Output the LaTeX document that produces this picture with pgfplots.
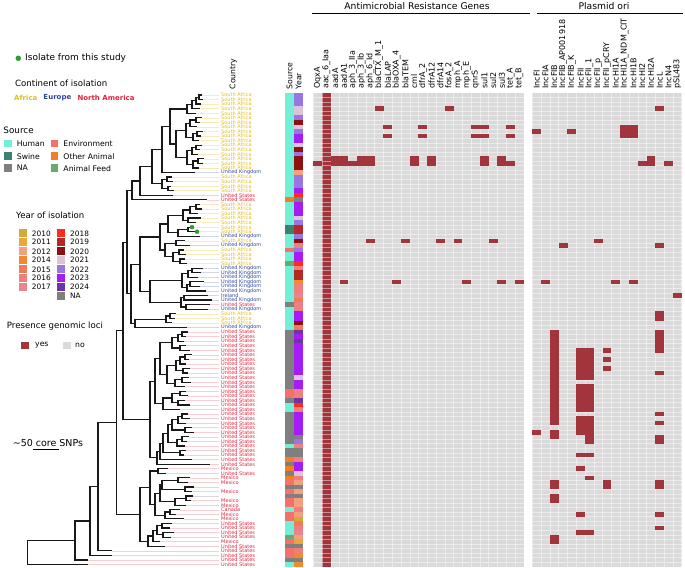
\documentclass[border=0pt]{standalone}
\usepackage{fontspec}
\setmainfont{DejaVu Sans}
\usepackage{pgfplots}
\usepackage{pgfplotstable}
\pgfplotsset{compat=1.18}

\definecolor{afr}{HTML}{E4BC1F}
\definecolor{eur}{HTML}{30489A}
\definecolor{nam}{HTML}{E3233B}
\colorlet{afrL}{afr!30}
\colorlet{eurL}{eur!22}
\colorlet{namL}{nam!22}
\colorlet{nnL}{black!15}
\definecolor{human}{HTML}{72EFD6}
\definecolor{swine}{HTML}{3F7F6F}
\definecolor{naC}{HTML}{7F7F7F}
\definecolor{env}{HTML}{F4706B}
\definecolor{oth}{HTML}{F47F20}
\definecolor{feed}{HTML}{68A974}
\definecolor{c10}{HTML}{D2AA3A}
\definecolor{c11}{HTML}{ECA53A}
\definecolor{c12}{HTML}{F2A07E}
\definecolor{c14}{HTML}{F08A2C}
\definecolor{c15}{HTML}{EF7B59}
\definecolor{c16}{HTML}{EE7F7F}
\definecolor{c17}{HTML}{E88590}
\definecolor{c18}{HTML}{FF2B1F}
\definecolor{c19}{HTML}{B52828}
\definecolor{c20}{HTML}{8E1010}
\definecolor{c21}{HTML}{DCC3DC}
\definecolor{c22}{HTML}{9678E0}
\definecolor{c23}{HTML}{A51CF5}
\definecolor{c24}{HTML}{6B35A5}
\definecolor{cellgrey}{HTML}{DADADA}
\definecolor{hred}{HTML}{A2353C}
\definecolor{gdot}{HTML}{2E9B2E}

\newcommand\fs[1]{\fontsize{#1bp}{#1bp}\selectfont}
\newcommand\labSA{\textcolor{afr}{South Africa}}
\newcommand\labUK{\textcolor{eur}{United Kingdom}}
\newcommand\labIE{\textcolor{eur}{Ireland}}
\newcommand\labUS{\textcolor{nam}{United States}}
\newcommand\labMX{\textcolor{nam}{Mexico}}
\newcommand\labCA{\textcolor{nam}{Canada}}
\newcommand\labNN{}

\pgfdeclareplotmark{hcell}{\pgfpathrectangle{\pgfqpoint{-4.45bp}{-2.33bp}}{\pgfqpoint{8.9bp}{4.66bp}}\pgfusepathqfill}
\pgfdeclareplotmark{scell}{\pgfpathrectangle{\pgfqpoint{-4.62bp}{-2.33bp}}{\pgfqpoint{9.24bp}{4.66bp}}\pgfusepathqfill}
\pgfdeclareplotmark{lsq}{\pgfpathrectangle{\pgfqpoint{-3.85bp}{-3.75bp}}{\pgfqpoint{7.7bp}{7.5bp}}\pgfusepathqfill}
\pgfdeclareplotmark{ysq}{\pgfpathrectangle{\pgfqpoint{-3.85bp}{-4bp}}{\pgfqpoint{7.7bp}{8bp}}\pgfusepathqfill}

\pgfplotsset{
  srcclasses/.style={scatter/classes={H={fill=human},S={fill=swine},N={fill=naC},E={fill=env},O={fill=oth},F={fill=feed}}},
  yrclasses/.style={scatter/classes={y10={fill=c10},y11={fill=c11},y12={fill=c12},y14={fill=c14},y15={fill=c15},y16={fill=c16},y17={fill=c17},y18={fill=c18},y19={fill=c19},y20={fill=c20},y21={fill=c21},y22={fill=c22},y23={fill=c23},y24={fill=c24},yNA={fill=naC}}},
  colormap={contmap}{color=(afrL) color=(eurL) color=(namL) color=(nnL)},
}

\pgfplotstableread{
r tx cont lab src yr
0 202 1 SA H y22
1 203 1 SA H y22
2 201 1 SA H y22
3 200 1 SA H y21
4 196 1 SA H y21
5 202 1 SA H y22
6 200 1 SA H y20
7 197 1 SA H y21
8 203 1 SA H y22
9 201 1 SA H y23
10 199 1 SA H y23
11 202 1 SA H y21
12 200 1 SA H y20
13 198 1 SA H y22
14 204 1 SA H y20
15 203 1 SA H y20
16 199 1 SA H y20
17 195 2 UK H y12
18 172 1 SA H y22
19 173 1 SA H y22
20 171 1 SA H y22
21 174 1 SA H y23
22 173 3 US H y18
23 207 3 US O yNA
24 200 1 SA H y23
25 202 1 SA H y23
26 198 1 SA H y23
27 201 1 SA H y21
28 196 1 SA H y22
29 192 1 SA S y19
30 197 1 SA S y19
31 200 2 UK H y22
32 185 1 SA H y20
33 190 2 UK H y16
34 184 1 SA E y22
35 186 1 SA H y23
36 185 1 SA H y23
37 187 1 SA F y18
38 203 2 UK H y16
39 201 2 UK H y19
40 198 2 UK H y19
41 204 2 UK H y14
42 200 2 UK H y16
43 206 2 UK H y16
44 208 2 IE H y17
45 212 2 UK H y15
46 210 3 US N y16
47 208 2 UK H y16
48 176 1 SA H y23
49 175 1 SA H y23
50 172 1 SA H y20
51 187 2 UK H y15
52 188 3 US N y24
53 186 3 US N y23
54 184 3 US N y24
55 186 3 US N y23
56 190 3 US N y23
57 192 3 US N y23
58 189 3 US N y23
59 186 3 US N y23
60 190 3 US N y23
61 188 3 US N y23
62 189 3 US N y21
63 191 3 US N y23
64 185 3 US N y23
65 186 3 US E y16
66 188 3 US E y16
67 185 3 US N y24
68 190 3 US H y18
69 180 3 US H y16
70 188 3 US N y23
71 190 3 US N y23
72 186 3 US N y23
73 192 3 US N y23
74 194 3 US N y23
75 189 3 US N yNA
76 187 3 US N y22
77 185 3 US H y16
78 186 3 US N yNA
79 184 3 US N yNA
80 192 3 US O y16
81 210 3 US N y23
82 168 3 MX O y23
83 166 3 US N y21
84 190 3 MX O y16
85 188 3 MX E y12
86 194 4 NN N yNA
87 192 3 MX E y12
88 193 4 NN N yNA
89 191 3 MX E y12
90 186 3 MX E y12
91 180 3 CA H y16
92 176 3 MX E y12
93 184 3 MX E y10
94 172 3 US H y15
95 170 3 US H y16
96 174 3 US H y17
97 171 3 US F y12
98 160 3 MX E y11
99 165 3 US N yNA
100 112 3 US E y16
101 112 3 US E y14
102 88 3 US N yNA
103 88 3 US H y14
}\tipdata

\pgfplotstableread[row sep=\\]{
k r\\
7 3\\15 3\\8 7\\12 7\\18 7\\19 7\\22 7\\8 9\\12 9\\18 9\\19 9\\22 9\\
2 14\\3 14\\5 14\\6 14\\11 14\\13 14\\19 14\\21 14\\
0 15\\2 15\\3 15\\4 15\\5 15\\6 15\\11 15\\13 15\\19 15\\21 15\\22 15\\
6 32\\10 32\\14 32\\16 32\\20 32\\
3 41\\9 41\\17 41\\21 41\\23 41\\
}\amrdata

\pgfplotstableread[row sep=\\]{
k r\\
14 3\\10 7\\11 7\\0 8\\4 8\\10 8\\11 8\\10 9\\11 9\\
13 14\\12 15\\13 15\\15 15\\7 32\\3 33\\14 33\\1 41\\9 41\\11 41\\16 44\\14 48\\14 49\\
2 52\\2 53\\2 54\\2 55\\2 56\\2 57\\2 58\\2 59\\2 60\\2 61\\2 62\\2 63\\2 64\\2 65\\2 66\\2 67\\2 68\\2 69\\2 70\\2 71\\2 72\\
2 74\\2 75\\2 85\\2 86\\2 88\\2 89\\2 97\\2 98\\0 74\\
14 52\\14 53\\14 54\\14 55\\14 56\\14 61\\14 70\\14 72\\14 75\\14 76\\14 85\\14 86\\14 92\\14 95\\
5 56\\5 57\\5 58\\5 59\\5 60\\5 61\\5 62\\5 64\\5 65\\5 66\\5 67\\5 68\\5 69\\5 71\\5 72\\5 73\\5 74\\5 79\\5 82\\5 92\\5 96\\
6 56\\6 57\\6 58\\6 59\\6 60\\6 61\\6 62\\6 64\\6 65\\6 66\\6 67\\6 68\\6 69\\6 71\\6 72\\6 73\\6 74\\6 75\\6 76\\6 79\\6 84\\6 96\\
8 56\\8 58\\8 60\\8 85\\8 86\\
}\plsdata

\pgfplotstableread[row sep=\\]{
k z\\0 0\\1 0\\2 0\\3 0\\4 0\\5 0\\6 0\\7 0\\8 0\\9 0\\10 0\\11 0\\12 0\\13 0\\14 0\\15 0\\16 0\\17 0\\18 0\\19 0\\20 0\\21 0\\22 0\\23 0\\24 0\\
}\gka
\pgfplotstableread[row sep=\\]{
k z\\0 0\\1 0\\2 0\\3 0\\4 0\\5 0\\6 0\\7 0\\8 0\\9 0\\10 0\\11 0\\12 0\\13 0\\14 0\\15 0\\16 0\\17 0\\
}\gkb

\newcommand\clab[2]{\node[rotate=90,anchor=west,inner sep=0.5bp,font=\fs{8}] at (axis cs:#1,-1.2) {#2};}
\newcommand\ltxt[4]{\node[anchor=west,inner sep=0pt,font=\fs{#3}] at (axis cs:#1,#2) {#4};}

\begin{document}
\begin{tikzpicture}
\begin{axis}[
  width=685bp, height=568bp, scale only axis,
  xmin=0, xmax=685, ymin=-20.838, ymax=103.778, y dir=reverse,
  hide axis, clip=false, unbounded coords=jump,
  colormap name=contmap,
]
% ---------- tip-to-label lines
\addplot[quiver={u=219-\thisrow{tx}, v=0, colored}, line width=0.5bp,
  point meta=\thisrow{cont}, point meta min=1, point meta max=4]
  table[x=tx, y=r] {\tipdata};
% ---------- tree
\addplot[black!90, line width=1.2bp] coordinates {
(202,0)(199,0)(199,1)(203,1) (nan,nan)
(199,0.5)(196,0.5)(196,2)(201,2) (nan,nan)
(196,1.25)(192,1.25)(192,3)(200,3) (nan,nan)
(192,2.125)(187,2.125)(187,4)(196,4) (nan,nan)
(202,5)(196,5)(196,6)(200,6) (nan,nan)
(196,5.5)(190,5.5)(190,7)(197,7) (nan,nan)
(203,8)(197,8)(197,9)(201,9) (nan,nan)
(197,8.5)(193,8.5)(193,10)(199,10) (nan,nan)
(190,6.25)(186,6.25)(186,9.25)(193,9.25) (nan,nan)
(202,11)(196,11)(196,12)(200,12) (nan,nan)
(196,11.5)(192,11.5)(192,13)(198,13) (nan,nan)
(204,14)(198,14)(198,15)(203,15) (nan,nan)
(198,14.5)(193,14.5)(193,16)(199,16) (nan,nan)
(192,12.25)(187,12.25)(187,15.25)(193,15.25) (nan,nan)
(186,7.75)(176,7.75)(176,13.75)(187,13.75) (nan,nan)
(187,3.06)(170,3.06)(170,10.75)(176,10.75) (nan,nan)
(170,6.91)(162,6.91)(162,17)(195,17) (nan,nan)
(172,18)(167,18)(167,19)(173,19) (nan,nan)
(171,20)(168,20)(168,21)(174,21) (nan,nan)
(167,18.5)(162,18.5)(162,20.5)(168,20.5) (nan,nan)
(162,11.95)(152,11.95)(152,19.5)(162,19.5) (nan,nan)
(152,15.73)(140,15.73)(140,22)(173,22) (nan,nan)
(140,18.86)(132,18.86)(132,23)(207,23) (nan,nan)
(200,24)(196,24)(196,25)(202,25) (nan,nan)
(196,24.5)(190,24.5)(190,26)(198,26) (nan,nan)
(201,27)(188,27)(188,28)(196,28) (nan,nan)
(190,25.25)(183,25.25)(183,27.5)(188,27.5) (nan,nan)
(192,29)(188,29)(188,30)(197,30) (nan,nan)
(188,29.5)(178,29.5)(178,31)(200,31) (nan,nan)
(183,26.38)(168,26.38)(168,30.25)(178,30.25) (nan,nan)
(185,32)(176,32)(176,33)(190,33) (nan,nan)
(184,34)(179,34)(179,35)(186,35) (nan,nan)
(185,36)(180,36)(180,37)(187,37) (nan,nan)
(179,34.5)(173,34.5)(173,36.5)(180,36.5) (nan,nan)
(176,32.5)(165,32.5)(165,35.5)(173,35.5) (nan,nan)
(168,28.31)(160,28.31)(160,34)(165,34) (nan,nan)
(203,38)(192,38)(192,39)(201,39) (nan,nan)
(192,38.5)(188,38.5)(188,40)(198,40) (nan,nan)
(204,41)(190,41)(190,42)(200,42) (nan,nan)
(190,41.5)(187,41.5)(187,43)(206,43) (nan,nan)
(188,39.25)(182,39.25)(182,42.25)(187,42.25) (nan,nan)
(208,44)(184,44)(184,45)(212,45) (nan,nan)
(210,46)(186,46)(186,47)(208,47) (nan,nan)
(184,44.5)(181,44.5)(181,46.5)(186,46.5) (nan,nan)
(182,40.75)(150,40.75)(150,45.5)(181,45.5) (nan,nan)
(160,31.16)(140,31.16)(140,43.13)(150,43.13) (nan,nan)
(176,48)(170,48)(170,49)(175,49) (nan,nan)
(170,48.5)(166,48.5)(166,50)(172,50) (nan,nan)
(166,49.25)(135,49.25)(135,51)(187,51) (nan,nan)
(140,37.14)(131,37.14)(131,50.13)(135,50.13) (nan,nan)
(132,20.93)(127,20.93)(127,43.63)(131,43.63) (nan,nan)
(188,52)(182,52)(182,53)(186,53) (nan,nan)
(182,52.5)(178,52.5)(178,54)(184,54) (nan,nan)
(186,55)(180,55)(180,56)(190,56) (nan,nan)
(178,53.25)(172,53.25)(172,55.5)(180,55.5) (nan,nan)
(192,57)(185,57)(185,58)(189,58) (nan,nan)
(185,57.5)(180,57.5)(180,59)(186,59) (nan,nan)
(190,60)(183,60)(183,61)(188,61) (nan,nan)
(180,58.25)(176,58.25)(176,60.5)(183,60.5) (nan,nan)
(189,62)(182,62)(182,63)(191,63) (nan,nan)
(182,62.5)(175,62.5)(175,64)(185,64) (nan,nan)
(176,59.38)(167,59.38)(167,63.25)(175,63.25) (nan,nan)
(172,54.38)(160,54.38)(160,61.31)(167,61.31) (nan,nan)
(186,65)(180,65)(180,66)(188,66) (nan,nan)
(185,67)(178,67)(178,68)(190,68) (nan,nan)
(180,65.5)(172,65.5)(172,67.5)(178,67.5) (nan,nan)
(172,66.5)(163,66.5)(163,69)(180,69) (nan,nan)
(160,57.84)(155,57.84)(155,67.75)(163,67.75) (nan,nan)
(188,70)(182,70)(182,71)(190,71) (nan,nan)
(182,70.5)(178,70.5)(178,72)(186,72) (nan,nan)
(192,73)(185,73)(185,74)(194,74) (nan,nan)
(178,71.25)(172,71.25)(172,73.5)(185,73.5) (nan,nan)
(189,75)(182,75)(182,76)(187,76) (nan,nan)
(182,75.5)(177,75.5)(177,77)(185,77) (nan,nan)
(172,72.38)(168,72.38)(168,76.25)(177,76.25) (nan,nan)
(186,78)(180,78)(180,79)(184,79) (nan,nan)
(168,74.31)(163,74.31)(163,78.5)(180,78.5) (nan,nan)
(163,76.41)(160,76.41)(160,80)(192,80) (nan,nan)
(160,78.2)(157,78.2)(157,81)(210,81) (nan,nan)
(155,62.8)(150,62.8)(150,79.6)(157,79.6) (nan,nan)
(127,32.28)(123,32.28)(123,71.2)(150,71.2) (nan,nan)
(168,82)(158,82)(158,83)(166,83) (nan,nan)
(190,84)(178,84)(178,85)(188,85) (nan,nan)
(194,86)(185,86)(185,87)(192,87) (nan,nan)
(178,84.5)(162,84.5)(162,86.5)(185,86.5) (nan,nan)
(193,88)(186,88)(186,89)(191,89) (nan,nan)
(186,88.5)(175,88.5)(175,90)(186,90) (nan,nan)
(162,85.5)(160,85.5)(160,89.25)(175,89.25) (nan,nan)
(180,91)(170,91)(170,92)(176,92) (nan,nan)
(170,91.5)(165,91.5)(165,93)(184,93) (nan,nan)
(160,87.38)(155,87.38)(155,92.25)(165,92.25) (nan,nan)
(158,82.5)(150,82.5)(150,89.81)(155,89.81) (nan,nan)
(172,94)(162,94)(162,95)(170,95) (nan,nan)
(174,96)(163,96)(163,97)(171,97) (nan,nan)
(162,94.5)(157,94.5)(157,96.5)(163,96.5) (nan,nan)
(157,95.5)(153,95.5)(153,98)(160,98) (nan,nan)
(153,96.75)(148,96.75)(148,99)(165,99) (nan,nan)
(150,86.16)(140,86.16)(140,97.88)(148,97.88) (nan,nan)
(123,51.74)(116.7,51.74)(116.7,92.02)(140,92.02) (nan,nan)
(116.7,71.88)(98,71.88)(98,100)(112,100) (nan,nan)
(98,85.94)(90,85.94)(90,101)(112,101) (nan,nan)
(90,93.47)(75,93.47)(75,102)(88,102) (nan,nan)
(75,97.74)(27.3,97.74)(27.3,103)(88,103)
};
% isolates from this study
\addplot[only marks, mark=*, mark size=2bp, color=gdot] coordinates {(192,29) (197,30)};
% ---------- tip labels
\addplot[only marks, mark=none, point meta=explicit symbolic,
  nodes near coords={\csname lab\pgfplotspointmeta\endcsname},
  nodes near coords style={anchor=west, inner sep=0pt, font=\fs{5}}]
  table[x expr=221, y=r, meta=lab] {\tipdata};
% ---------- source / year strips
\addplot[scatter, only marks, mark=scell, point meta=explicit symbolic, srcclasses]
  table[x expr=289.5, y=r, meta=src] {\tipdata};
\addplot[scatter, only marks, mark=scell, point meta=explicit symbolic, yrclasses]
  table[x expr=298.74, y=r, meta=yr] {\tipdata};
% ---------- heatmaps
\addplot[fill=cellgrey, draw=none] coordinates {(313.3,-0.5) (523.78,-0.5) (523.78,103.5) (313.3,103.5)} -- cycle;
\addplot[fill=cellgrey, draw=none] coordinates {(532.3,-0.5) (681.73,-0.5) (681.73,103.5) (532.3,103.5)} -- cycle;
\addplot[fill=hred, draw=none] coordinates {(322.07,-0.5) (330.84,-0.5) (330.84,103.5) (322.07,103.5)} -- cycle;
\addplot[only marks, mark=hcell, color=hred, mark options={fill=hred}]
  table[x expr=313.3+8.77*(\thisrow{k}+0.5), y=r] {\amrdata};
\addplot[only marks, mark=hcell, color=hred, mark options={fill=hred}]
  table[x expr=532.3+8.79*(\thisrow{k}+0.5), y=r] {\plsdata};
% grid
\addplot[quiver={u=368.43, v=0}, white, opacity=0.45, line width=0.5bp]
  table[x expr=313.3, y expr=\thisrow{r}-0.5] {\tipdata};
\addplot[quiver={u=0, v=104}, white, opacity=0.45, line width=0.5bp]
  table[x expr=313.3+8.77*\thisrow{k}, y expr=-0.5] {\gka};
\addplot[quiver={u=0, v=104}, white, opacity=0.45, line width=0.5bp]
  table[x expr=532.3+8.79*\thisrow{k}, y expr=-0.5] {\gkb};
% ---------- headers
\addplot[black, line width=1.1bp] coordinates {(311.7,-17.88)(530,-17.88) (nan,nan) (536.7,-17.88)(683.3,-17.88)};
\node[font=\fs{9.2}, inner sep=0pt] at (axis cs:417,-19.52) {Antimicrobial Resistance Genes};
\node[font=\fs{9.2}, inner sep=0pt] at (axis cs:604,-19.52) {Plasmid ori};
\clab{317.69}{OqxA}
\clab{326.46}{aac\_6\_Iaa}
\clab{335.23}{aadA}
\clab{344.00}{aadA1}
\clab{352.77}{aph\_3\_IIa}
\clab{361.54}{aph\_3\_Ib}
\clab{370.31}{aph\_6\_Id}
\clab{379.08}{blaCTX\_M\_1}
\clab{387.85}{blaLAP}
\clab{396.62}{blaOXA\_4}
\clab{405.39}{blaTEM}
\clab{414.16}{cml}
\clab{422.93}{dfrA\_2}
\clab{431.70}{dfrA12}
\clab{440.47}{dfrA14}
\clab{449.24}{fosA\_2}
\clab{458.01}{mph\_A}
\clab{466.78}{mph\_E}
\clab{475.55}{qnrS}
\clab{484.32}{sul1}
\clab{493.09}{sul2}
\clab{501.86}{sul3}
\clab{510.63}{tet\_A}
\clab{519.40}{tet\_B}
\clab{536.70}{IncFI}
\clab{545.49}{IncFIA}
\clab{554.28}{IncFIB}
\clab{563.07}{IncFIB\_AP001918}
\clab{571.86}{IncFIB\_K}
\clab{580.65}{IncFII}
\clab{589.44}{IncFII\_1}
\clab{598.23}{IncFII\_p}
\clab{607.02}{IncFII\_pCRY}
\clab{615.81}{IncHI1A}
\clab{624.60}{IncHI1A\_NDM\_CIT}
\clab{633.39}{IncHI1B}
\clab{642.18}{IncHI2}
\clab{650.97}{IncHI2A}
\clab{659.76}{IncL}
\clab{668.55}{IncN4}
\clab{677.34}{pSL483}
\node[rotate=90,anchor=west,inner sep=0.5bp,font=\fs{7.7}] at (axis cs:233.3,-1.1) {Country};
\node[rotate=90,anchor=west,inner sep=0.5bp,font=\fs{7.7}] at (axis cs:289.6,-1.1) {Source};
\node[rotate=90,anchor=west,inner sep=0.5bp,font=\fs{7.7}] at (axis cs:298.6,-1.1) {Year};
% ---------- legends
\addplot[only marks, mark=*, mark size=2.5bp, color=gdot] coordinates {(18.3,-8.05)};
\ltxt{25}{-8.11}{9}{Isolate from this study}
\ltxt{15}{-2.63}{8.6}{Continent of isolation}
\node[anchor=west,inner sep=0pt,font=\fs{7}\bfseries,text=afr] at (axis cs:14,0.6) {Africa};
\node[anchor=west,inner sep=0pt,font=\fs{7}\bfseries,text=eur] at (axis cs:43.3,0.6) {Europe};
\node[anchor=west,inner sep=0pt,font=\fs{7}\bfseries,text=nam] at (axis cs:77.3,0.6) {North America};
\ltxt{3.3}{7.84}{8.8}{Source}
\addplot[scatter, only marks, mark=lsq, point meta=explicit symbolic, srcclasses] coordinates {
 (7.8,10.69) [H] (7.8,13.43) [S] (7.8,16.06) [N] (54.5,10.69) [E] (54.5,13.43) [O] (54.5,16.06) [F]};
\ltxt{16.7}{10.69}{7.7}{Human}
\ltxt{16.7}{13.43}{7.7}{Swine}
\ltxt{16.7}{16.06}{7.7}{NA}
\ltxt{63.3}{10.69}{7.7}{Environment}
\ltxt{63.3}{13.43}{7.7}{Other Animal}
\ltxt{63.3}{16.06}{7.7}{Animal Feed}
\ltxt{16}{26.33}{8.6}{Year of isolation}
\addplot[scatter, only marks, mark=ysq, point meta=explicit symbolic, yrclasses] coordinates {
 (22.8,30.35) [y10] (22.8,32.32) [y11] (22.8,34.30) [y12] (22.8,36.27) [y14] (22.8,38.25) [y15] (22.8,40.15) [y16] (22.8,42.06) [y17]
 (61.2,30.35) [y18] (61.2,32.32) [y19] (61.2,34.30) [y20] (61.2,36.27) [y21] (61.2,38.25) [y22] (61.2,40.15) [y23] (61.2,42.06) [y24] (61.2,44.10) [yNA]};
\ltxt{31.7}{30.35}{7.4}{2010}
\ltxt{31.7}{32.32}{7.4}{2011}
\ltxt{31.7}{34.30}{7.4}{2012}
\ltxt{31.7}{36.27}{7.4}{2014}
\ltxt{31.7}{38.25}{7.4}{2015}
\ltxt{31.7}{40.15}{7.4}{2016}
\ltxt{31.7}{42.06}{7.4}{2017}
\ltxt{70}{30.35}{7.4}{2018}
\ltxt{70}{32.32}{7.4}{2019}
\ltxt{70}{34.30}{7.4}{2020}
\ltxt{70}{36.27}{7.4}{2021}
\ltxt{70}{38.25}{7.4}{2022}
\ltxt{70}{40.15}{7.4}{2023}
\ltxt{70}{42.06}{7.4}{2024}
\ltxt{70}{44.10}{7.4}{NA}
\ltxt{6.7}{50.68}{8.6}{Presence genomic loci}
\addplot[only marks, mark=lsq, mark options={fill=hred}] coordinates {(25,54.96)};
\addplot[only marks, mark=lsq, mark options={fill=cellgrey}] coordinates {(66.7,54.96)};
\ltxt{35}{54.96}{7.7}{yes}
\ltxt{75}{54.96}{7.7}{no}
\ltxt{12.6}{76.35}{9.5}{\textasciitilde 50 core SNPs}
\addplot[black, line width=1bp] coordinates {(33.3,77.82)(59.3,77.82)};
\end{axis}
\pgfresetboundingbox
\path (current axis.south west) rectangle (current axis.north east);
\end{tikzpicture}
\end{document}
